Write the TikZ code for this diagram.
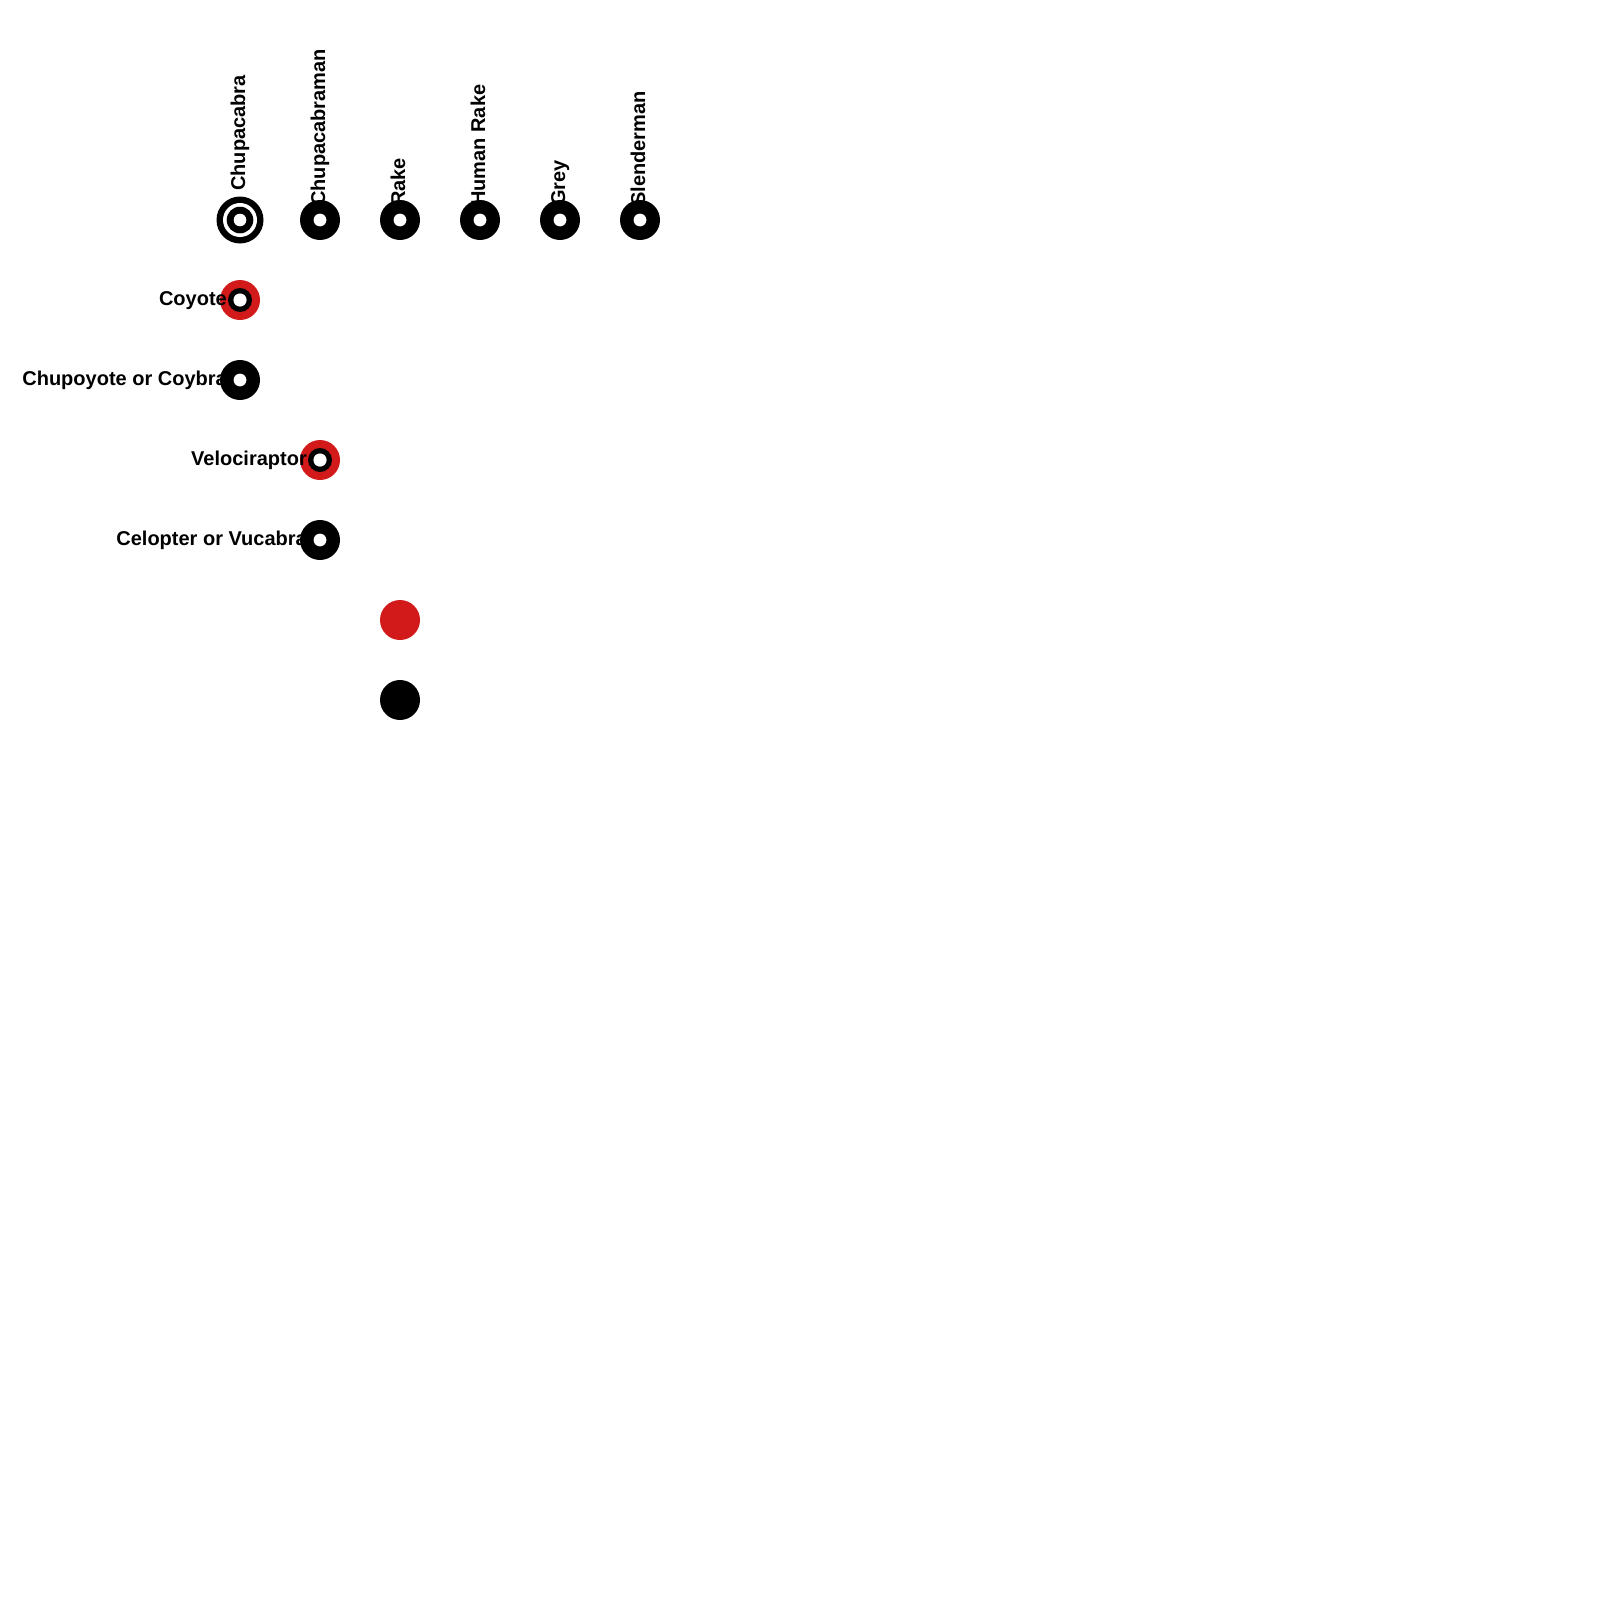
\documentclass[tikz,border=0pt]{standalone}
\usepackage{fontspec}
\setmainfont{Liberation Sans}
\definecolor{cervena}{RGB}{210,26,26}
\tikzset{
    bod/.style={circle, fill=black, minimum size=40pt, inner sep=0pt},
    kolecko/.style={bod, path picture={\fill[white] (path picture bounding box.center) circle (6.4pt);}},
    cervene/.style={bod, fill=cervena, path picture={
        \fill[black] (path picture bounding box.center) circle (12pt);
        \fill[white] (path picture bounding box.center) circle (6.6pt);}},
    terc/.style={bod, minimum size=47pt, path picture={
        \fill[white] (path picture bounding box.center) circle (17pt);
        \fill[black] (path picture bounding box.center) circle (13.3pt);
        \fill[white] (path picture bounding box.center) circle (6.3pt);}},
    popis/.style={inner sep=0pt, font=\bfseries\fontsize{20}{24}\selectfont},
    svisly/.style={popis, rotate=90, anchor=base west},
    vodorovny/.style={popis, anchor=base east}
}

\begin{document}
\begin{tikzpicture}[x=1pt, y=-1pt]
        \useasboundingbox (0,0) rectangle (1600,1600);

        % horni rada
        \node[terc] (Chupacabra) at (240,220) {};
        \node[kolecko] (Chupacabraman) at (320,220) {};
        \node[kolecko] (Rake) at (400,220) {};
        \node[kolecko] (HumanRake) at (480,220) {};
        \node[kolecko] (Grey) at (560,220) {};
        \node[kolecko] (Slenderman) at (640,220) {};

        % dalsi body
        \node[cervene] (Coyote) at (240,300) {};
        \node[kolecko] (Chupoyote) at (240,380) {};
        \node[cervene] (Velociraptor) at (320,460) {};
        \node[kolecko] (Celopter) at (320,540) {};
        \node[bod, fill=cervena] (R1) at (400,620) {};
        \node[bod] (R2) at (400,700) {};

        % svisle popisky
        \node[svisly] (lChupacabra) at ([shift={(5,-29)}]Chupacabra.center) {Chupacabra};
        \node[svisly] (lChupacabraman) at ([shift={(5,-14)}]Chupacabraman.center) {Chupacabraman};
        \node[svisly] (lRake) at ([shift={(5,-14)}]Rake.center) {Rake};
        \node[svisly] (lHumanRake) at ([shift={(5,-14)}]HumanRake.center) {Human Rake};
        \node[svisly] (lGrey) at ([shift={(5,-14)}]Grey.center) {Grey};
        \node[svisly] (lSlenderman) at ([shift={(5,-14)}]Slenderman.center) {Slenderman};

        % vodorovne popisky
        \node[vodorovny] (lCoyote) at ([shift={(-13,5.3)}]Coyote.center) {Coyote};
        \node[vodorovny] (lChupoyote) at ([shift={(-13,5.3)}]Chupoyote.center) {Chupoyote or Coybra};
        \node[vodorovny] (lVelociraptor) at ([shift={(-13,5.3)}]Velociraptor.center) {Velociraptor};
        \node[vodorovny] (lCelopter) at ([shift={(-13,5.3)}]Celopter.center) {Celopter or Vucabra};

    \end{tikzpicture}
\end{document}
